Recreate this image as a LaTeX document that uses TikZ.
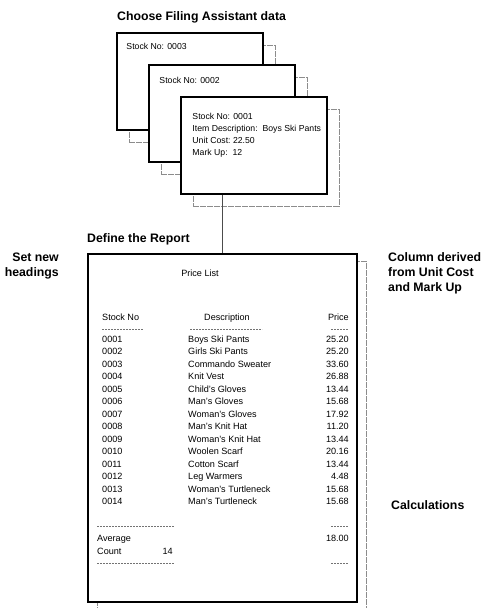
\documentclass[tikz,border=0pt]{standalone}
\usepackage{fontspec}
\setmainfont{Liberation Sans}
\usetikzlibrary{positioning,calc}
\tikzset{
  card/.style={draw, line width=1.5pt, fill=white, minimum width=146pt, minimum height=97pt, inner sep=0pt,
    preaction={draw=black!45, line width=0.6pt, dash pattern=on 6pt off 1pt, transform canvas={shift={(12pt,-12pt)}}}},
  sheet/.style={draw, line width=1.5pt, fill=white, minimum width=269pt, minimum height=348pt, inner sep=0pt,
    preaction={draw=black!45, line width=0.6pt, dash pattern=on 6pt off 1pt, transform canvas={shift={(9pt,-7pt)}}}},
  cardtext/.style={font=\fontsize{8.7}{12}\selectfont, inner sep=0pt, align=left},
  cell/.style={font=\fontsize{9.1}{10}\selectfont, inner sep=0pt},
  remark/.style={font=\fontsize{12.3}{15}\selectfont\bfseries, inner sep=0pt},
  dashrule/.style={draw=black!55, line width=0.5pt, dash pattern=on 2pt off 1pt},
  link/.style={draw=black!70, line width=0.6pt}
}

\begin{document}
\begin{tikzpicture}[x=1pt, y=-1pt]
  \useasboundingbox (0,0) rectangle (483,608);

  % filing assistant cards
  \node[remark, anchor=base west] (choose) at (117,20.4) {Choose Filing Assistant data};
  \node[card] (card1) at (190,81.5) {};
  \node[cardtext, anchor=west] (text1) at ([shift={(10,14)}]card1.north west) {Stock No: 0003};
  \node[card, anchor=north west] (card2) at ([shift={(32,32)}]card1.north west) {};
  \node[cardtext, anchor=west] (text2) at ([shift={(11,16)}]card2.north west) {Stock No: 0002};
  \node[card, anchor=north west] (card3) at ([shift={(32,32)}]card2.north west) {};
  \node[cardtext, anchor=north west] (text3) at ([shift={(12,17)}]card3.north west)
    {Stock No: 0001\\Item Description:\ \ Boys Ski Pants\\Unit Cost:\ 22.50\\Mark Up:\ \ 12};

  % the report
  \node[remark, anchor=base west] (define) at (87,242.4) {Define the Report};
  \node[sheet] (report) at (222.5,428) {};
  \draw[link] (report.north |- card3.south) -- (report.north);

  \node[remark, anchor=north east, align=right] (headings) at (59,252.6) {Set new\\headings};
  \node[remark, anchor=north west, align=left] (derived) at (388,252) {Column derived\\from Unit Cost\\and Mark Up};
  \node[remark, anchor=base west] (calc) at (391,509.4) {Calculations};

  \node[cell, anchor=base] (title) at (200,276) {Price List};
  \node[cell, anchor=base west] (hstock) at (102,320) {Stock No};
  \node[cell, anchor=base] (hdesc) at (227,320) {Description};
  \node[cell, anchor=base east] (hprice) at (349,320) {Price};
  \draw[dashrule] (102,329) -- (143,329);
  \draw[dashrule] (190,329) -- (262,329);
  \draw[dashrule] (331,329) -- (349,329);

  \foreach \num/\desc/\cost [count=\i from 0] in {
      0001/Boys Ski Pants/25.20, 0002/Girls Ski Pants/25.20,
      0003/Commando Sweater/33.60, 0004/Knit Vest/26.88,
      0005/Child's Gloves/13.44, 0006/Man's Gloves/15.68,
      0007/Woman's Gloves/17.92, 0008/Man's Knit Hat/11.20,
      0009/Woman's Knit Hat/13.44, 0010/Woolen Scarf/20.16,
      0011/Cotton Scarf/13.44, 0012/Leg Warmers/4.48,
      0013/Woman's Turtleneck/15.68, 0014/Man's Turtleneck/15.68} {
    \node[cell, anchor=base west] (id\num) at (102,342.1+12.5*\i) {\num};
    \node[cell, anchor=base west] (desc\num) at (188,342.1+12.5*\i) {\desc};
    \node[cell, anchor=base east] (price\num) at (349,342.1+12.5*\i) {\cost};
  }

  \draw[dashrule] (97,526) -- (174,526);
  \draw[dashrule] (331,526) -- (349,526);
  \node[cell, anchor=base west] (avg) at (97,541) {Average};
  \node[cell, anchor=base east] (avgval) at (349,541) {18.00};
  \node[cell, anchor=base west] (count) at (97,554) {Count};
  \node[cell, anchor=base east] (countval) at (173,554) {14};
  \draw[dashrule] (97,563) -- (174,563);
  \draw[dashrule] (331,563) -- (349,563);
\end{tikzpicture}
\end{document}
